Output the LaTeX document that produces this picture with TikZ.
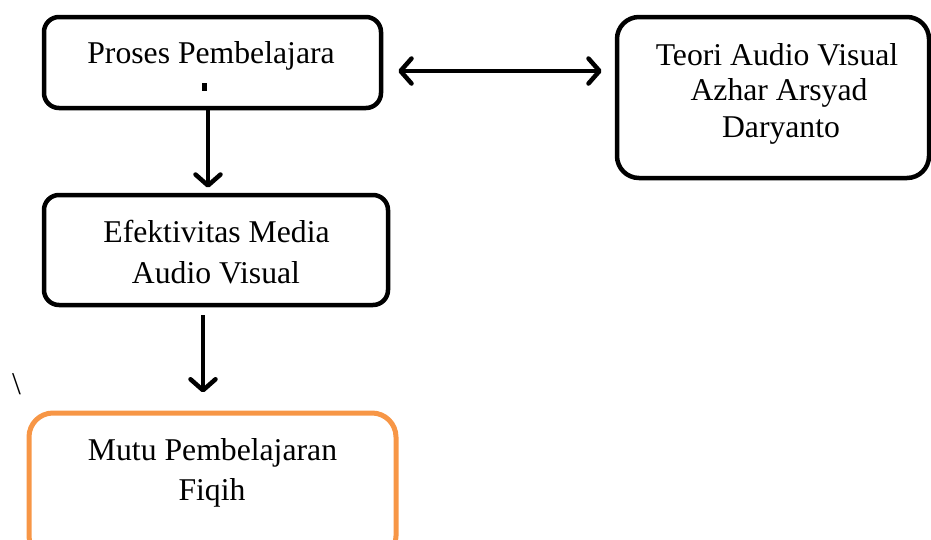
\documentclass[tikz,border=0pt]{standalone}
\usepackage{fontspec}
\setmainfont{Liberation Serif}
\usetikzlibrary{arrows.meta}
\definecolor{boxorange}{HTML}{F79646}
\begin{document}
\begin{tikzpicture}[x=1pt,y=-1pt,
  box/.style={draw=black,line width=4.5pt,inner sep=0pt},
  lbl/.style={inner sep=0pt,anchor=base,font=\fontsize{31.7}{38}\selectfont},
  tip/.tip={Straight Barb[length=11pt,width=25pt,round]},
  arr/.style={line width=4.5pt,-tip},
  darr/.style={line width=4.5pt,tip-tip}]
\useasboundingbox (0,0) rectangle (931,539);
% boxes
\node[box,rounded corners=15pt,minimum width=337pt,minimum height=91pt] (box1) at (212.5,62.5) {};
\node[box,rounded corners=22pt,minimum width=312pt,minimum height=161pt] (box2) at (773,97.5) {};
\node[box,rounded corners=15pt,minimum width=344pt,minimum height=110pt] (box3) at (216,250) {};
\node[box,draw=boxorange,line width=5pt,rounded corners=24pt,minimum width=367pt,minimum height=147pt] (box4) at (212.5,486.5) {};
% texts
\node[lbl] (t1) at (211,63) {Proses Pembelajara};
\fill (202,83) rectangle (207,91);
\node[lbl] (t2a) at (777,65) {Teori Audio Visual};
\node[lbl] (t2b) at (779,100) {Azhar Arsyad};
\node[lbl] (t2c) at (781,137) {Daryanto};
\node[lbl] (t3a) at (216.5,242) {Efektivitas Media};
\node[lbl] (t3b) at (216,283) {Audio Visual};
\node[lbl] (t4a) at (212.5,460) {Mutu Pembelajaran};
\node[lbl] (t4b) at (212,500) {Fiqih};
\node[lbl] (bs) at (16.5,394) {\textbackslash};
% connectors
\coordinate (dy) at (500,71);
\coordinate (a1) at (208,0);
\coordinate (a2) at (203,0);
\draw[darr,shorten <=15pt,shorten >=13pt] (box1.east |- dy) -- (box2.west |- dy);
\draw[arr,shorten >=5pt] (box1.south -| a1) -- (box3.north -| a1);
\draw[arr,shorten <=8pt,shorten >=18pt] (box3.south -| a2) -- (box4.north -| a2);
\end{tikzpicture}
\end{document}
